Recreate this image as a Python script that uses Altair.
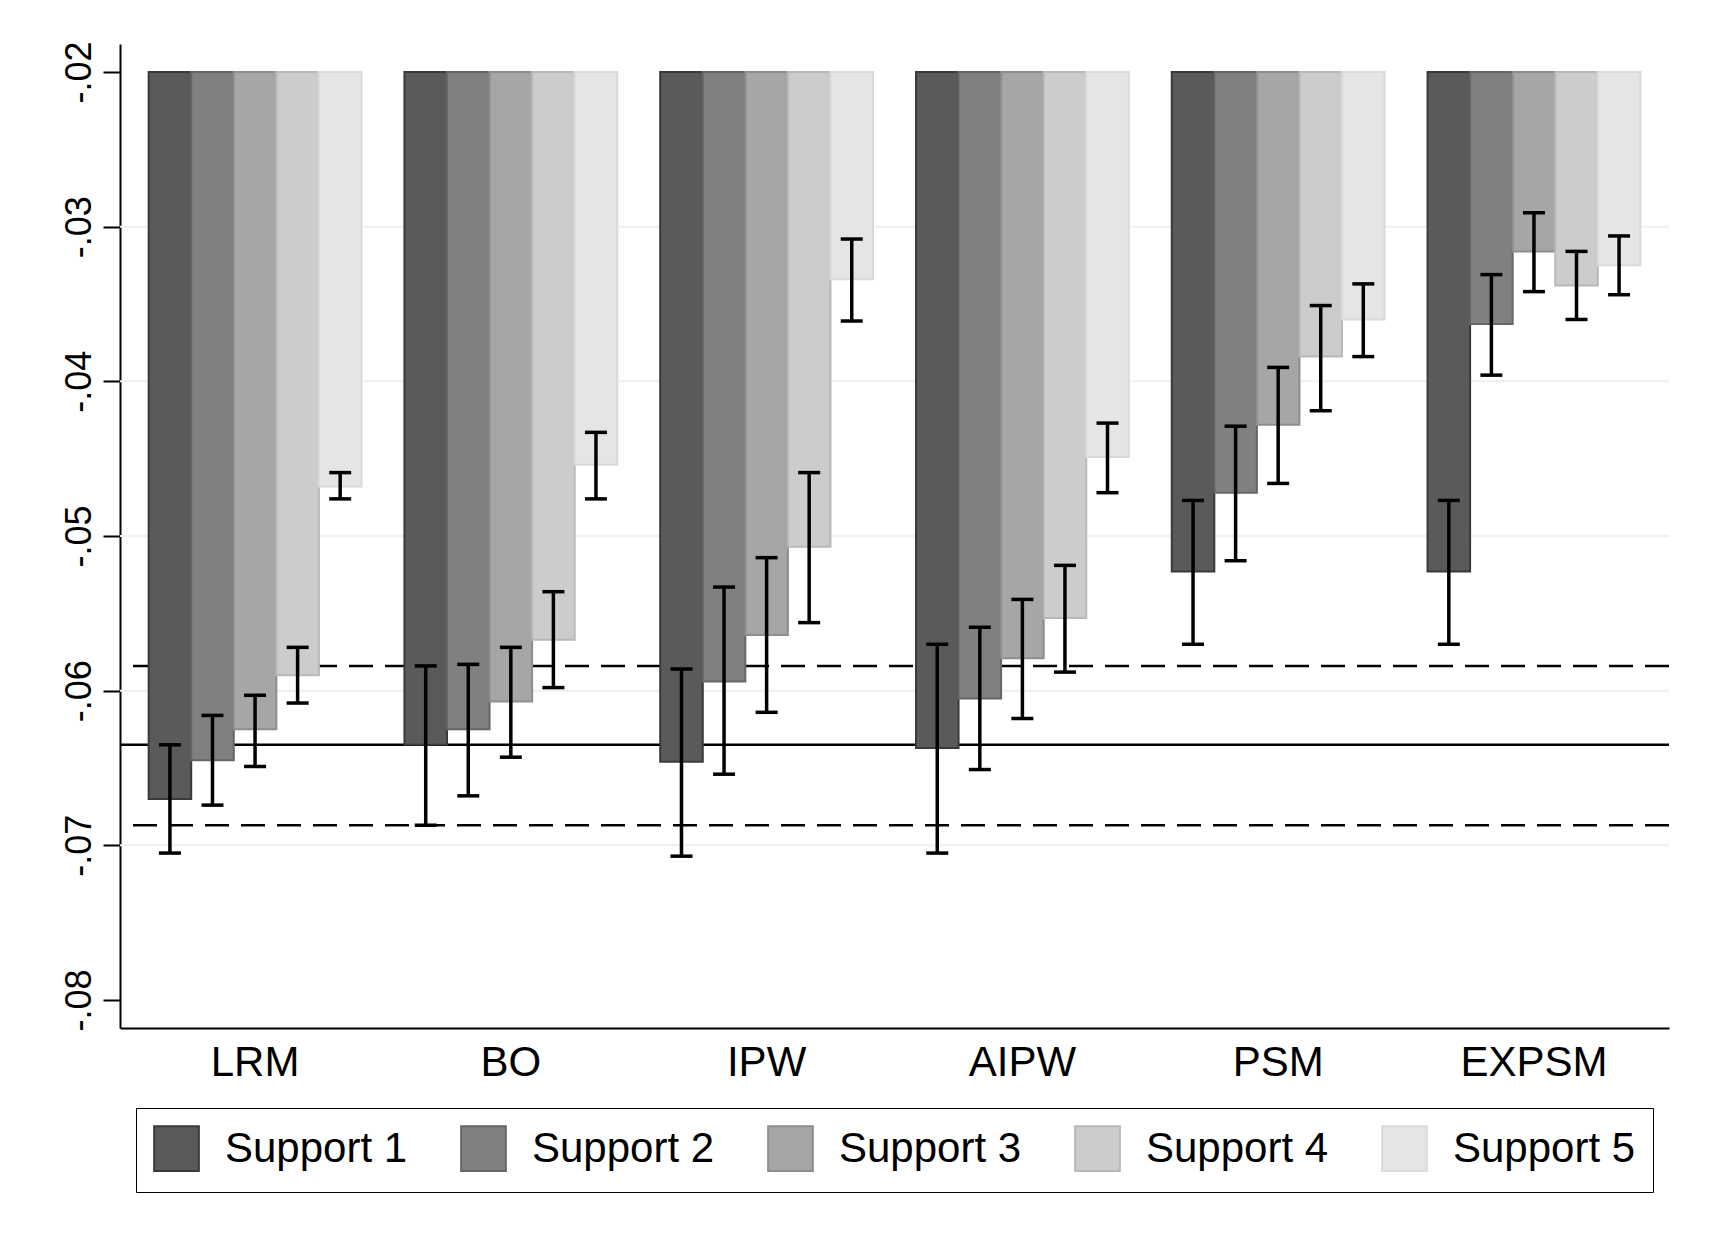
import altair as alt
import pandas as pd

methods = ["LRM", "BO", "IPW", "AIPW", "PSM", "EXPSM"]
supports = ["Support 1", "Support 2", "Support 3", "Support 4", "Support 5"]

# point estimates, one list per support level (across methods)
est_s1 = [-0.0670, -0.0635, -0.0646, -0.0637, -0.0523, -0.0523]
est_s2 = [-0.0645, -0.0625, -0.0594, -0.0605, -0.0472, -0.0363]
est_s3 = [-0.0625, -0.0607, -0.0564, -0.0579, -0.0428, -0.0316]
est_s4 = [-0.0590, -0.0567, -0.0507, -0.0553, -0.0384, -0.0338]
est_s5 = [-0.0468, -0.0454, -0.0334, -0.0449, -0.0360, -0.0325]

# confidence interval bounds
lo_s1 = [-0.0705, -0.0687, -0.0707, -0.0705, -0.0570, -0.0570]
hi_s1 = [-0.0635, -0.0584, -0.0586, -0.0570, -0.0477, -0.0477]
lo_s2 = [-0.0674, -0.0668, -0.0654, -0.0651, -0.0516, -0.0396]
hi_s2 = [-0.0616, -0.0583, -0.0533, -0.0559, -0.0429, -0.0331]
lo_s3 = [-0.0649, -0.0643, -0.0614, -0.0618, -0.0466, -0.0342]
hi_s3 = [-0.0603, -0.0572, -0.0514, -0.0541, -0.0391, -0.0291]
lo_s4 = [-0.0608, -0.0598, -0.0556, -0.0588, -0.0419, -0.0360]
hi_s4 = [-0.0572, -0.0536, -0.0459, -0.0519, -0.0351, -0.0316]
lo_s5 = [-0.0476, -0.0476, -0.0361, -0.0472, -0.0384, -0.0344]
hi_s5 = [-0.0459, -0.0433, -0.0308, -0.0427, -0.0337, -0.0306]

ref_mid = [-0.0635]
ref_band = [-0.0584, -0.0687]
grid_vals = [-0.03, -0.04, -0.05, -0.06, -0.07]
tick_vals = [-0.08, -0.07, -0.06, -0.05, -0.04, -0.03, -0.02]
bar_base = -0.02

fills = ["#5a5a5a", "#808080", "#a6a6a6", "#cccccc", "#e5e5e5"]
strokes = ["#3a3a3a", "#666666", "#8e8e8e", "#b8b8b8", "#dadada"]

rows = []
for s, e, lo, hi in zip(
    supports,
    [est_s1, est_s2, est_s3, est_s4, est_s5],
    [lo_s1, lo_s2, lo_s3, lo_s4, lo_s5],
    [hi_s1, hi_s2, hi_s3, hi_s4, hi_s5],
):
    for m, ev, lv, hv in zip(methods, e, lo, hi):
        rows.append({"method": m, "support": s, "est": ev, "lo": lv, "hi": hv})
df = pd.DataFrame(rows)

FONT = "Liberation Sans"
yscale = alt.Scale(domain=[-0.08181, -0.01819], nice=False, zero=False)

y_axis = alt.Axis(
    title=None, values=tick_vals, grid=False, labelAngle=270,
    labelAlign="center", labelBaseline="alphabetic",
    labelExpr="'-.0' + format(round(-datum.value * 100), 'd')",
    labelFont=FONT, labelFontSize=36, labelColor="black", labelPadding=13,
    tickSize=17, tickWidth=2, tickColor="black", domainColor="black",
    domainWidth=2,
)

x_axis = alt.Axis(
    title=None, ticks=False, labelAngle=0, labelFont=FONT, labelFontSize=42,
    labelColor="black", labelPadding=14, domainColor="black", domainWidth=2,
    grid=False,
)

x_enc = alt.X(
    "method:N",
    sort=methods,
    scale=alt.Scale(paddingInner=0.168, paddingOuter=0.112),
    axis=x_axis,
)
xoff_enc = alt.XOffset(
    "support:N", sort=supports, scale=alt.Scale(paddingInner=0, paddingOuter=0)
)

legend = alt.Legend(
    title=None, orient="none", legendX=16, legendY=1064, direction="horizontal",
    columns=5, symbolType="square", symbolSize=2000, symbolStrokeWidth=2,
    labelFont=FONT, labelFontSize=42, labelColor="black", labelOffset=25,
    columnPadding=49, padding=17, strokeColor="black", fillColor="white",
    labelLimit=600, symbolOpacity=1,
)

grid = alt.Chart(pd.DataFrame({"g": grid_vals})).mark_rule(
    color="#eaf2f3", strokeWidth=2
).encode(y=alt.Y("g:Q", scale=yscale, axis=y_axis))

ref_solid = alt.Chart(pd.DataFrame({"r": ref_mid})).mark_rule(
    color="black", strokeWidth=2.5
).encode(y=alt.Y("r:Q", scale=yscale, axis=y_axis))

ref_dash = alt.Chart(pd.DataFrame({"r": ref_band})).mark_rule(
    color="black", strokeWidth=2.5, strokeDash=[24, 12]
).encode(y=alt.Y("r:Q", scale=yscale, axis=y_axis))

base = alt.Chart(df)

bars = base.mark_bar(strokeWidth=2).encode(
    x=x_enc,
    xOffset=xoff_enc,
    y=alt.Y("est:Q", scale=yscale, axis=y_axis),
    y2=alt.datum(bar_base),
    fill=alt.Fill("support:N", sort=supports,
                  scale=alt.Scale(domain=supports, range=fills), legend=legend),
    stroke=alt.Stroke("support:N", sort=supports,
                      scale=alt.Scale(domain=supports, range=strokes), legend=legend),
)

err = base.mark_rule(color="black", strokeWidth=3.5).encode(
    x=x_enc, xOffset=xoff_enc,
    y=alt.Y("lo:Q", scale=yscale, axis=y_axis), y2="hi:Q",
)
cap_lo = base.mark_tick(color="black", size=22, thickness=3.5, opacity=1).encode(
    x=x_enc, xOffset=xoff_enc,
    y=alt.Y("lo:Q", scale=yscale, axis=y_axis),
)
cap_hi = base.mark_tick(color="black", size=22, thickness=3.5, opacity=1).encode(
    x=x_enc, xOffset=xoff_enc,
    y=alt.Y("hi:Q", scale=yscale, axis=y_axis),
)

chart = alt.layer(grid, ref_solid, ref_dash, bars, err, cap_lo, cap_hi).properties(
    width=1549, height=984,
    autosize=alt.AutoSizeParams(type="none"),
    padding={"left": 112, "top": 36, "right": 37, "bottom": 211},
    background="white",
).configure_view(stroke=None)

chart.save("out.html", embed_options={"renderer": "svg", "actions": False})
